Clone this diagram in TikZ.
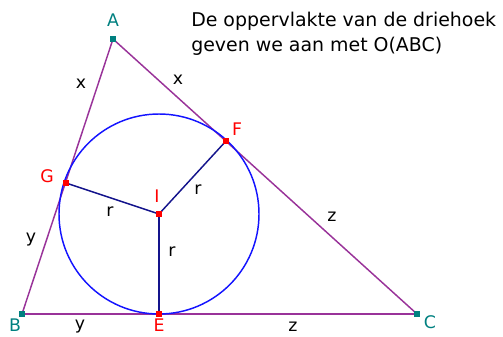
\documentclass[tikz,border=0pt]{standalone}
\usepackage{fontspec}
\setmainfont{DejaVu Sans}
\usepackage{xcolor}
\definecolor{paars}{RGB}{153,51,153}
\definecolor{blauw}{RGB}{20,20,255}
\definecolor{donkerblauw}{RGB}{20,20,140}
\definecolor{blauwgroen}{RGB}{0,128,128}

\begin{document}
\begin{tikzpicture}[x=0.75pt, y=-0.75pt,
    zijde/.style={draw=paars, line width=1.1pt},
    straal/.style={draw=donkerblauw, line width=1.1pt},
    hoekpunt/.style={fill=blauwgroen, minimum size=4pt, inner sep=0pt},
    raakpunt/.style={fill=red, minimum size=4pt, inner sep=0pt},
    lbl/.style={font=\fontsize{13}{15}\selectfont, inner sep=0pt},
    punt/.style={lbl, text=red},
    hoek/.style={lbl, text=blauwgroen}
]
\useasboundingbox (0,0) rectangle (503,336);
\coordinate (A) at (113,39);
\coordinate (B) at (22,314);
\coordinate (C) at (417,314);
\coordinate (I) at (159,214);
\coordinate (E) at (159,314);
\coordinate (G) at (66,183);
\coordinate (F) at (226,141);

\draw[zijde] (A) -- (B);
\draw[zijde] (A) -- (C);
\draw[zijde, line width=1.8pt] (B) -- (C);
\draw[blauw, line width=1.1pt] (I) circle[radius=75pt];
\draw[straal] (I) -- (G);
\draw[straal] (I) -- (F);
\draw[straal, line width=1.5pt] (I) -- (E);

\foreach \p in {A,B,C} \node[hoekpunt] (m\p) at (\p) {};
\foreach \p in {I,E,G,F} \node[raakpunt] (m\p) at (\p) {};

\node[hoek] (lA) at (113,20) {A};
\node[hoek] (lB) at (15,325) {B};
\node[hoek] (lC) at (430,322) {C};
\node[punt] (lG) at (47,176) {G};
\node[punt] (lF) at (237,129) {F};
\node[punt] (lI) at (157,196) {I};
\node[punt] (lE) at (159,325) {E};

\node[lbl] (x1) at (81,84) {x};
\node[lbl] (x2) at (178,80) {x};
\node[lbl] (y1) at (31,240) {y};
\node[lbl] (y2) at (80,327) {y};
\node[lbl] (z1) at (332,217) {z};
\node[lbl] (z2) at (293,327) {z};
\node[lbl] (r1) at (110,212) {r};
\node[lbl] (r2) at (198,190) {r};
\node[lbl] (r3) at (172,252) {r};

\node[font=\fontsize{14.2}{19}\selectfont, align=left, anchor=north west, inner sep=0pt] (tekst) at (191,12)
  {De oppervlakte van de driehoek\\geven we aan met O(ABC)};
\end{tikzpicture}
\end{document}
